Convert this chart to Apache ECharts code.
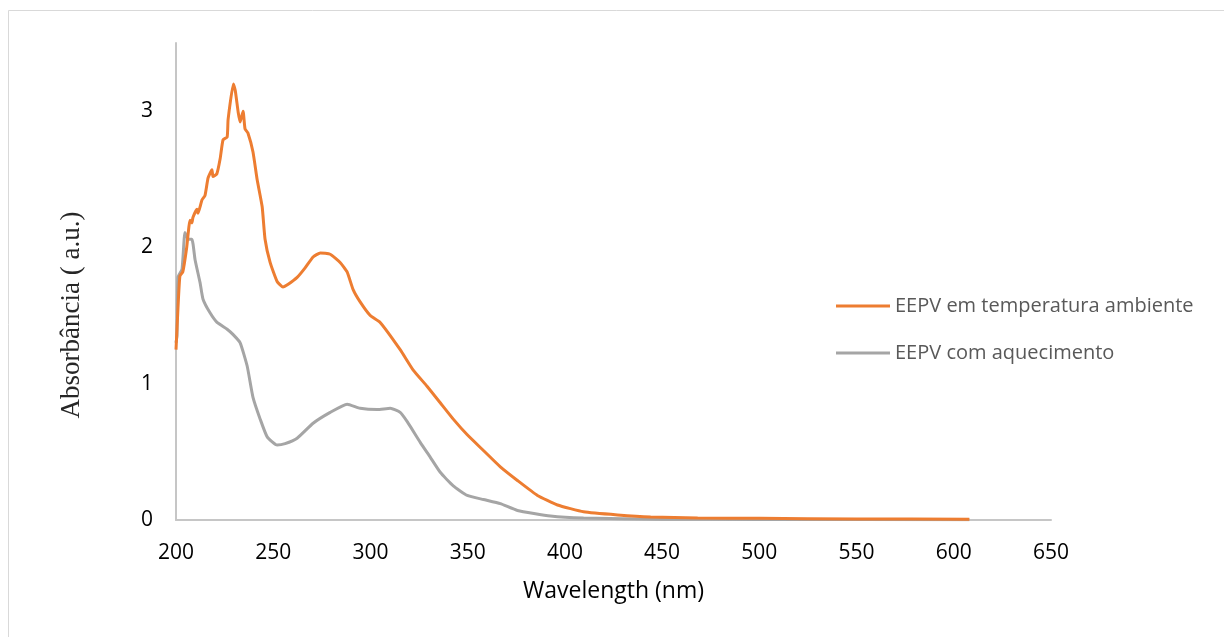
<!DOCTYPE html>
<html>
<head>
  <meta charset="UTF-8">
  <title>EEPV absorbance</title>
  <style>
    html, body { margin: 0; padding: 0; background: #fff; }
    #chart { width: 1224px; height: 637px; }
  </style>
</head>
<body>
<div id="chart"></div>
<script src="https://cdn.jsdelivr.net/npm/echarts@6/dist/echarts.min.js"></script>
<script>
  // wavelength (nm) and absorbance
  const wlAmbient = [200, 201, 202, 203.5, 205.5, 207.2, 208.2, 208.7, 210.8, 211.3, 213.4, 214.9, 216.5,
    218.5, 219, 221, 222.7, 224.2, 226.3, 226.8, 229.5, 230.5, 232, 233, 234.5, 235.5, 237, 239.6, 241.7,
    244.3, 245.8, 248.4, 252, 255, 257.7, 262.3, 266.4, 270.5, 274.2, 279.3, 284.4,
    288, 291.1, 294.7, 299.9, 305, 315.3, 322, 329.2, 335.9, 342.6, 349.8, 358.1, 366.8, 375.6, 385.9, 396.2,
    409.6, 427.1, 444.1, 468.3, 500, 550, 608];
  const absAmbient = [1.25, 1.55, 1.79, 1.82, 2.0, 2.2, 2.18, 2.22, 2.28, 2.25, 2.35, 2.38, 2.51,
    2.57, 2.52, 2.54, 2.65, 2.79, 2.81, 2.94, 3.2, 3.15, 2.99, 2.92, 3.0, 2.87, 2.84, 2.7, 2.5,
    2.3, 2.06, 1.89, 1.75, 1.71, 1.73, 1.78, 1.85, 1.93, 1.96, 1.95, 1.89,
    1.82, 1.69, 1.6, 1.5, 1.45, 1.25, 1.1, 0.98, 0.86, 0.74, 0.625, 0.51, 0.39, 0.29, 0.18, 0.11,
    0.06, 0.037, 0.022, 0.015, 0.012, 0.008, 0.005];

  const wlHeated = [200, 200.5, 201, 203.1, 204.6, 206.2, 208.2, 209.8, 212.4, 213.9, 217.5, 221.1, 226.3,
    229.4, 233, 236.6, 239.6, 243.3, 246.9, 252, 256.1, 262.3, 270.5, 279.3, 288, 294.7, 303.5, 310.2,
    315.3, 319, 325.6, 330.8, 335.9, 342.6, 349.8, 358.1, 366.8, 375.6, 392.6, 409.6, 450, 500, 608];
  const absHeated = [1.3, 1.35, 1.78, 1.84, 2.11, 2.06, 2.06, 1.91, 1.74, 1.62, 1.52, 1.45, 1.4,
    1.36, 1.3, 1.13, 0.9, 0.74, 0.61, 0.55, 0.56, 0.6, 0.71, 0.79, 0.85, 0.82, 0.81, 0.82,
    0.79, 0.72, 0.57, 0.46, 0.35, 0.25, 0.18, 0.15, 0.12, 0.07, 0.03, 0.015, 0.006, 0.004, 0.002];

  const seriesNames = ['EEPV em temperatura ambiente', 'EEPV com aquecimento'];
  const xTitle = 'Wavelength (nm)';
  const yTitle = 'Absorbância ( a.u.)';

  const pairs = (xs, ys) => xs.map((x, i) => [x, ys[i]]);
  const font = '"Open Sans", sans-serif';

  const chart = echarts.init(document.getElementById('chart'));
  chart.setOption({
    animation: false,
    backgroundColor: '#fff',
    grid: {left: 176, right: 173, top: 43, bottom: 117, containLabel: false},
    legend: {
      orient: 'vertical',
      left: 831,
      top: 291,
      itemGap: 27,
      itemWidth: 54,
      itemHeight: 3,
      icon: 'rect',
      textStyle: {fontFamily: font, fontSize: 20, color: '#595959'},
      data: seriesNames
    },
    xAxis: {
      type: 'value',
      min: 200,
      max: 650,
      interval: 50,
      name: xTitle,
      nameLocation: 'middle',
      nameGap: 60,
      nameTextStyle: {fontFamily: font, fontSize: 23, color: '#000'},
      axisLine: {show: true, lineStyle: {color: '#c6c6c6', width: 2}},
      axisTick: {show: false},
      splitLine: {show: false},
      axisLabel: {fontFamily: font, fontSize: 21, color: '#000', margin: 23}
    },
    yAxis: {
      type: 'value',
      min: 0,
      max: 3.5,
      interval: 1,
      axisLine: {show: true, lineStyle: {color: '#c6c6c6', width: 2}},
      axisTick: {show: false},
      splitLine: {show: false},
      axisLabel: {fontFamily: font, fontSize: 21, color: '#000', margin: 23, showMaxLabel: false}
    },
    graphic: [
      {
        type: 'rect',
        shape: {x: 8.5, y: 10.5, width: 1400, height: 800},
        style: {fill: 'none', stroke: '#d9d9d9', lineWidth: 1},
        silent: true
      },
      {
        type: 'text',
        x: 72,
        y: 315,
        rotation: Math.PI / 2,
        style: {
          text: yTitle,
          font: '27px "Liberation Serif", serif',
          fill: '#262626',
          align: 'center',
          verticalAlign: 'middle'
        }
      }
    ],
    series: [
      {
        name: seriesNames[0],
        type: 'line',
        data: pairs(wlAmbient, absAmbient),
        showSymbol: false,
        smooth: 0.15,
        lineStyle: {color: '#ed7d31', width: 3},
        itemStyle: {color: '#ed7d31'},
        z: 3
      },
      {
        name: seriesNames[1],
        type: 'line',
        data: pairs(wlHeated, absHeated),
        showSymbol: false,
        smooth: 0.15,
        lineStyle: {color: '#a5a5a5', width: 3},
        itemStyle: {color: '#a5a5a5'},
        z: 2
      }
    ]
  });
</script>
</body>
</html>
